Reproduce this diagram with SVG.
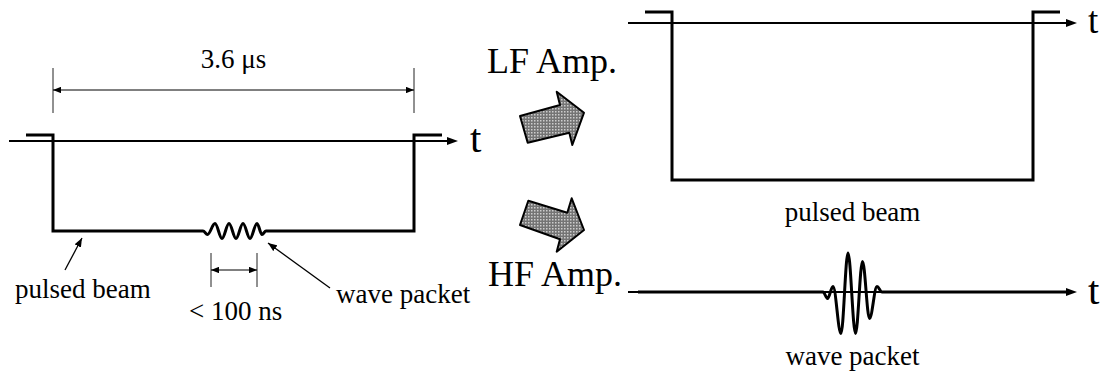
<svg xmlns="http://www.w3.org/2000/svg" width="1102" height="375" viewBox="0 0 1102 375">
<style>
  text { font-family: "Liberation Serif", "Times New Roman", serif; fill: #000; }
  .lbl { font-size: 27px; }
  .amp { font-size: 36px; }
  .t { font-size: 41px; }
  .axis { fill: none; stroke: #000; stroke-width: 2; }
  .sig { fill: none; stroke: #000; stroke-width: 3; stroke-linejoin: miter; }
  .dim { fill: none; stroke: #000; stroke-width: 1; }
  .ext { fill: none; stroke: #222; stroke-width: 1; }
  .lead { fill: none; stroke: #000; stroke-width: 1.3; }
  .block { fill: url(#dots); stroke: #000; stroke-width: 2; stroke-linejoin: round; }
</style>
<defs>
  <marker id="axhead" viewBox="0 0 11 8" refX="4" refY="4" markerWidth="11" markerHeight="8" markerUnits="userSpaceOnUse" orient="auto">
    <path d="M0,0 L11,4 L0,8 Z" fill="#000"/>
  </marker>
  <marker id="dimhead" viewBox="0 0 8 6.4" refX="8" refY="3.2" markerWidth="8" markerHeight="6.4" markerUnits="userSpaceOnUse" orient="auto-start-reverse">
    <path d="M0,0 L8,3.2 L0,6.4 Z" fill="#000"/>
  </marker>
  <marker id="leadhead" viewBox="0 0 9 7" refX="9" refY="3.5" markerWidth="9" markerHeight="7" markerUnits="userSpaceOnUse" orient="auto">
    <path d="M0,0 L9,3.5 L0,7 Z" fill="#000"/>
  </marker>
  <pattern id="dots" width="3" height="3" patternUnits="userSpaceOnUse">
    <rect width="3" height="3" fill="#747474"/>
    <rect width="1.5" height="1.5" fill="#cdcdcd"/>
  </pattern>
</defs>

<g id="input-signal">
  <line class="ext" x1="53" y1="68" x2="53" y2="113"/>
  <line class="ext" x1="414" y1="68" x2="414" y2="113"/>
  <line class="dim" x1="53" y1="90" x2="414" y2="90" marker-start="url(#dimhead)" marker-end="url(#dimhead)"/>
  <text class="lbl" x="233.5" y="68" text-anchor="middle">3.6 μs</text>
  <line class="axis" x1="9" y1="141" x2="451" y2="141" marker-end="url(#axhead)"/>
  <text class="t" x="470" y="152">t</text>
  <path class="sig" d="M26,135 H53 V231 H203 C204.6,231 205.9,234.5 207.5,234.5 C210.2,234.5 212.3,223.5 215,223.5 C217.5,223.5 219.5,238.5 222,238.5 C224.5,238.5 226.5,223.5 229,223.5 C231.5,223.5 233.5,238.5 236,238.5 C238.5,238.5 240.5,223.5 243,223.5 C245.5,223.5 247.5,238.5 250,238.5 C252.5,238.5 254.5,223.5 257,223.5 C258.8,223.5 260.2,234.5 262,234.5 C263.4,234.5 264.6,231 266,231 H414 V135 H442"/>
  <line class="ext" x1="211" y1="253" x2="211" y2="287"/>
  <line class="ext" x1="257" y1="253" x2="257" y2="287"/>
  <line class="dim" x1="211" y1="270" x2="257" y2="270" marker-start="url(#dimhead)" marker-end="url(#dimhead)"/>
  <text class="lbl" x="189" y="320">&lt; 100 ns</text>
  <text class="lbl" x="15" y="298">pulsed beam</text>
  <text class="lbl" x="336" y="303">wave packet</text>
</g>

<g id="lf-output">
  <text class="amp" x="487" y="73">LF Amp.</text>
  <line class="axis" x1="628" y1="23" x2="1070" y2="23" marker-end="url(#axhead)"/>
  <text x="1088" y="33" style="font-size:37px">t</text>
  <path class="sig" d="M645,12 H672 V180 H1033 V12 H1060"/>
  <text class="lbl" x="852.5" y="221" text-anchor="middle">pulsed beam</text>
</g>

<g id="hf-output">
  <text class="amp" x="488" y="286">HF Amp.</text>
  <line class="axis" x1="628" y1="292" x2="1070" y2="292" marker-end="url(#axhead)"/>
  <text class="t" x="1088" y="303.5">t</text>
  <path class="sig" d="M638,292 H823 C824.6,292 825.9,298.5 827.5,298.5 C829.5,298.5 831,286.5 833,286.5 C835.9,286.5 838.1,333.5 841,333.5 C843.5,333.5 845.5,253 848,253 C850.7,253 852.8,333.5 855.5,333.5 C858,333.5 860,261.5 862.5,261.5 C865,261.5 867,318.5 869.5,318.5 C872.2,318.5 874.3,286.5 877,286.5 C878.8,286.5 880.2,292 882,292 H1067"/>
  <text class="lbl" x="852.5" y="365" text-anchor="middle">wave packet</text>
</g>

<g id="connectors">
  <polygon id="lf-arrow" class="block" points="520,116 560,105 556.7,91.7 584,112.7 572.3,145 569.3,132.7 527.7,142.7"/>
  <polygon id="hf-arrow" class="block" points="528.3,200.7 567.3,212.7 571.7,198.3 584,230 556.7,251.7 560,239.3 520,225"/>
  <line class="lead" x1="65" y1="270" x2="82" y2="238" marker-end="url(#leadhead)"/>
  <line class="lead" x1="330" y1="288" x2="268" y2="243" marker-end="url(#leadhead)"/>
</g>
</svg>
